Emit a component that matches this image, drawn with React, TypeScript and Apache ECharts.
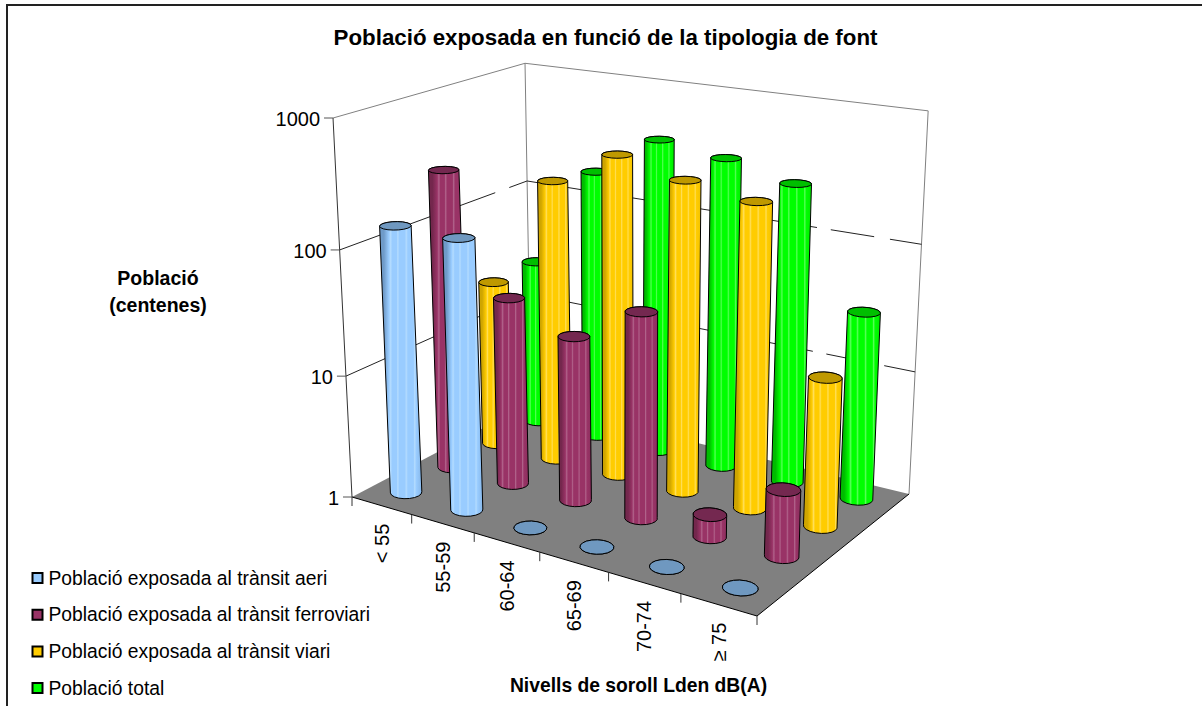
import React, { useEffect, useRef } from "react";
import * as echarts from "echarts";

const categories = ["< 55", "55-59", "60-64", "65-69", "70-74", "≥ 75"];
const yTickValues = [1, 10, 100, 1000];
const seriesNames = [
  "Població exposada al trànsit aeri",
  "Població exposada al trànsit ferroviari",
  "Població exposada al trànsit viari",
  "Població total",
];
const aeri = [144, 143, 1, 1, 1, 1];
const ferroviari = [286, 34, 21.5, 43, 1.5, 3.3];
const viari = [25, 208, 400, 305, 255, 15];
const total = [26, 183, 395, 335, 255, 32];
const seriesValues = [aeri, ferroviari, viari, total];

const titleText = "Població exposada en funció de la tipologia de font";
const yAxisName = "Població\n(centenes)";
const xAxisName = "Nivells de soroll Lden dB(A)";

const palette = [
  { dark: "#6f9bc9", mid: "#99ccff", lite: "#b4dcff", edge: "#86b6e8", top: "#6f98c0" },
  { dark: "#74274d", mid: "#993366", lite: "#b0628a", edge: "#8c2f5e", top: "#742850" },
  { dark: "#cfa500", mid: "#ffcc00", lite: "#ffdf5a", edge: "#f2c200", top: "#bf9900" },
  { dark: "#00bb00", mid: "#00ff00", lite: "#55ff55", edge: "#00ea00", top: "#00bf00" },
];

// scene corners on the page: left, back, right and front of the floor
const FL: [number, number] = [352, 497];
const FB: [number, number] = [531, 403];
const FR: [number, number] = [909, 494];
const FF: [number, number] = [757, 616];
const VP: [number, number] = [630.5, 6060];
const TOP_Y_AT_LEFT = 118;
const NX = 6;
const NY = 4;
const NZ = 3;
const GRID = { left: 10, top: 10, width: 600, height: 300 };
const RX = 0.21;
const RY = 0.198;

// unit square -> quad (Heckbert). u along L->F, v along L->B
const makeProject = () => {
  const [x0, y0] = FL, [x1, y1] = FF, [x2, y2] = FR, [x3, y3] = FB;
  const sx = x0 - x1 + x2 - x3, sy = y0 - y1 + y2 - y3;
  const dx1 = x1 - x2, dx2 = x3 - x2, dy1 = y1 - y2, dy2 = y3 - y2;
  const den = dx1 * dy2 - dx2 * dy1;
  const g = (sx * dy2 - dx2 * sy) / den;
  const h = (dx1 * sy - sx * dy1) / den;
  const a = x1 - x0 + g * x1, b = x3 - x0 + h * x3, c = x0;
  const d = y1 - y0 + g * y1, e = y3 - y0 + h * y3, f = y0;
  const s = -(y0 - TOP_Y_AT_LEFT) / (NZ * (VP[1] - TOP_Y_AT_LEFT));
  return (X: number, Y: number, Z: number): [number, number] => {
    const u = X / NX, v = Y / NY;
    const w = g * u + h * v + 1 + s * Z;
    return [
      (a * u + b * v + c + s * Z * VP[0]) / w,
      (d * u + e * v + f + s * Z * VP[1]) / w,
    ];
  };
};
const project = makeProject();

const hull = (pts: number[][]) => {
  const p = pts.slice().sort((m, n) => m[0] - n[0] || m[1] - n[1]);
  const cross = (o: number[], m: number[], n: number[]) =>
    (m[0] - o[0]) * (n[1] - o[1]) - (m[1] - o[1]) * (n[0] - o[0]);
  const lo: number[][] = [];
  for (const q of p) {
    while (lo.length >= 2 && cross(lo[lo.length - 2], lo[lo.length - 1], q) <= 0) lo.pop();
    lo.push(q);
  }
  const up: number[][] = [];
  for (let i = p.length - 1; i >= 0; i--) {
    const q = p[i];
    while (up.length >= 2 && cross(up[up.length - 2], up[up.length - 1], q) <= 0) up.pop();
    up.push(q);
  }
  lo.pop();
  up.pop();
  return lo.concat(up);
};

const ring = (X: number, Y: number, Z: number) => {
  const out: number[][] = [];
  const n = 18;
  const shrink = 1 - 0.02 * Z;
  for (let i = 0; i < n; i++) {
    const t = (i / n) * Math.PI * 2;
    out.push(project(X + shrink * RX * Math.cos(t), Y + shrink * RY * Math.sin(t), Z));
  }
  return out;
};

const toWorld = (api: any, cat: number, value: number) => {
  const [px, py] = api.coord([cat, value]);
  return [
    ((px - GRID.left) / GRID.width) * NX,
    ((GRID.top + GRID.height - py) / GRID.height) * NZ,
  ];
};

const cylinder = (s: number) => (_: any, api: any) => {
  const [X, Z] = toWorld(api, api.value(0), api.value(1));
  const Y = s + 0.5;
  const base = ring(X, Y, 0);
  const top = ring(X, Y, Z);
  const c = palette[s];
  const fill = new echarts.graphic.LinearGradient(0, 0, 1, 0, [
    { offset: 0, color: c.dark },
    { offset: 0.1, color: c.dark },
    { offset: 0.22, color: c.mid },
    { offset: 0.26, color: c.lite },
    { offset: 0.3, color: c.mid },
    { offset: 0.4, color: c.mid },
    { offset: 0.43, color: c.lite },
    { offset: 0.47, color: c.mid },
    { offset: 0.6, color: c.mid },
    { offset: 0.63, color: c.lite },
    { offset: 0.67, color: c.mid },
    { offset: 0.8, color: c.mid },
    { offset: 0.83, color: c.lite },
    { offset: 0.87, color: c.mid },
    { offset: 1, color: c.edge },
  ]);
  return {
    type: "group",
    children: [
      {
        type: "polygon",
        shape: { points: hull(base.concat(top)) },
        style: { fill, stroke: "#000", lineWidth: 1 },
      },
      {
        type: "polygon",
        shape: { points: top },
        style: { fill: c.top, stroke: "#000", lineWidth: 1 },
      },
    ],
  };
};

const line = (a: number[], b: number[], stroke: string, lineWidth = 1) => ({
  type: "line",
  shape: { x1: a[0], y1: a[1], x2: b[0], y2: b[1] },
  style: { stroke, lineWidth },
});

const label = (text: string, x: number, y: number, extra: any = {}) => ({
  type: "text",
  x,
  y,
  rotation: extra.rotation || 0,
  style: {
    text,
    fill: "#000",
    font: '20px "Liberation Sans"',
    align: extra.align || "center",
    verticalAlign: "middle",
  },
});

const GREY = "#808080";

const frame = (_: any, api: any) => {
  const children: any[] = [];
  const zOf = (v: number) => toWorld(api, 0, v)[1];
  // floor
  children.push({
    type: "polygon",
    shape: { points: [FL, FB, FR, FF] },
    style: { fill: GREY, stroke: "none" },
  });
  // wall frame
  const tL = project(0, 0, NZ), tB = project(0, NY, NZ), tR = project(NX, NY, NZ);
  children.push(line(tL, tB, GREY), line(tB, tR, GREY));
  children.push(line(FB, tB, GREY), line(FR, tR, GREY));
  children.push(line(FL, tL, "#333"));
  // grid lines with the gaps of the original
  const gapsLeft = [[0.83, 0.905]];
  const gapsRight = [[0.735, 0.77], [0.88, 0.92]];
  const dashed = (a: number[], b: number[], gaps: number[][]) => {
    let st = 0;
    const at = (t: number) => [a[0] + (b[0] - a[0]) * t, a[1] + (b[1] - a[1]) * t];
    for (const [g0, g1] of gaps) {
      children.push(line(at(st), at(g0), "#222"));
      st = g1;
    }
    children.push(line(at(st), at(1), "#222"));
  };
  [10, 100].forEach((v) => {
    const z = zOf(v);
    dashed(project(0, 0, z), project(0, NY, z), gapsLeft);
    dashed(project(0, NY, z), project(NX, NY, z), gapsRight);
  });
  // value axis ticks and labels
  yTickValues.forEach((v) => {
    const z = zOf(v);
    const p = project(0, 0, z);
    children.push(line([p[0] - 9, p[1]], p, "#555"));
    children.push(label(String(v), p[0] - 13, p[1] + 1, { align: "right" }));
  });
  // floor front edges
  children.push(line(FL, FF, "#000"), line(FF, FR, "#000"));
  // category ticks and labels
  for (let i = 0; i <= NX; i++) {
    const p = project(i, 0, 0);
    children.push(line(p, [p[0], p[1] + 9], "#333"));
  }
  categories.forEach((name, i) => {
    const [wx] = toWorld(api, i, 1);
    const p = project(wx, 0, 0);
    children.push(label(name, p[0] + 0.2, p[1] + 18, { rotation: Math.PI / 2, align: "right" }));
  });
  return { type: "group", children };
};

export default function App() {
  const ref = useRef<HTMLDivElement>(null);
  useEffect(() => {
    const chart = echarts.init(ref.current!, undefined, { renderer: "svg" });
    chart.setOption({
      animation: false,
      backgroundColor: "#fff",
      title: {
        text: titleText,
        left: 600.5,
        top: 21,
        textAlign: "center",
        textStyle: { fontFamily: "Liberation Sans", fontSize: 22.3, fontWeight: "bold", color: "#000" },
      },
      legend: {
        orient: "vertical",
        left: 31.5,
        top: 568,
        padding: 0,
        itemWidth: 10,
        itemHeight: 10,
        itemGap: 16.7,
        icon: "rect",
        selectedMode: false,
        data: seriesNames,
        textStyle: {
          fontFamily: "Liberation Sans",
          fontSize: 19.3,
          lineHeight: 20,
          color: "#000",
          padding: [0, 0, 0, 1],
        },
      },
      grid: { ...GRID, show: false },
      xAxis: { type: "category", data: categories, show: false },
      yAxis: { type: "log", min: 1, max: 1000, logBase: 10, show: false },
      graphic: [
        {
          type: "line",
          shape: { x1: 6, y1: 5, x2: 1202, y2: 5 },
          style: { stroke: "#222", lineWidth: 2 },
        },
        {
          type: "line",
          shape: { x1: 7, y1: 4, x2: 7, y2: 706 },
          style: { stroke: "#222", lineWidth: 2 },
        },
        {
          type: "text",
          x: 158,
          y: 291.5,
          style: {
            text: yAxisName,
            font: 'bold 19.5px "Liberation Sans"',
            fill: "#000",
            align: "center",
            verticalAlign: "middle",
            lineHeight: 27,
          },
        },
        {
          type: "text",
          x: 638.5,
          y: 685,
          style: {
            text: xAxisName,
            font: 'bold 19.3px "Liberation Sans"',
            fill: "#000",
            align: "center",
            verticalAlign: "middle",
          },
        },
      ],
      series: [
        {
          type: "custom",
          silent: true,
          z: 1,
          coordinateSystem: "cartesian2d",
          renderItem: frame,
          data: [[0, 1]],
          encode: { x: 0, y: 1 },
        },
        ...seriesNames.map((name, s) => ({
          type: "custom",
          name,
          z: 5 - s + 1,
          coordinateSystem: "cartesian2d",
          renderItem: cylinder(s),
          itemStyle: { color: palette[s].mid, borderColor: "#000", borderWidth: 1 },
          data: seriesValues[s].map((v, i) => [i, v]),
          encode: { x: 0, y: 1 },
        })),
      ],
    });
    return () => chart.dispose();
  }, []);
  return (
    <div
      ref={ref}
      style={{ position: "fixed", left: 0, top: 0, width: 1202, height: 706, background: "#fff" }}
    />
  );
}
